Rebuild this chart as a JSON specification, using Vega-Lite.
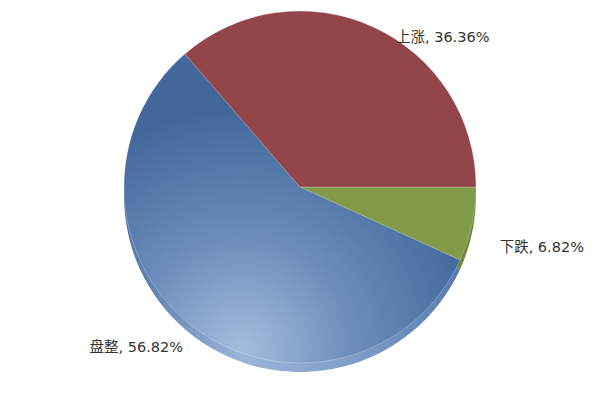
{
  "$schema": "https://vega.github.io/schema/vega-lite/v6.json",
  "width": 600,
  "height": 400,
  "autosize": {"type": "fit", "contains": "padding"},
  "padding": 0,
  "background": "white",
  "config": {"view": {"stroke": "#8a8a8a", "strokeWidth": 1}},
  "data": {
    "values": [
      {"k": "下跌", "v": 6.82, "o": 1, "label": "下跌, 6.82%"},
      {"k": "盘整", "v": 56.82, "o": 2, "label": "盘整, 56.82%"},
      {"k": "上涨", "v": 36.36, "o": 3, "label": "上涨, 36.36%"}
    ]
  },
  "encoding": {
    "theta": {"field": "v", "type": "quantitative", "stack": true, "scale": {"range": [1.5708, 7.854]}},
    "order": {"field": "o", "type": "quantitative"}
  },
  "layer": [
    {
      "mark": {"type": "arc", "radius": 176, "yOffset": -4},
      "encoding": {
        "color": {
          "condition": [
            {"test": "datum.k === '盘整'", "value": {"gradient": "linear", "x1": 0, "y1": 0, "x2": 1, "y2": 0, "stops": [{"offset": 0, "color": "#5076aa"}, {"offset": 0.35, "color": "#9cb5d8"}, {"offset": 0.7, "color": "#7d9cc8"}, {"offset": 1, "color": "#567bae"}]}},
            {"test": "datum.k === '上涨'", "value": "#7b3639"}
          ],
          "value": "#6c8a3a"
        }
      }
    },
    {
      "mark": {"type": "arc", "radius": 176, "yOffset": -13, "stroke": "#ffffff", "strokeWidth": 0.4, "strokeOpacity": 0.6},
      "encoding": {
        "color": {
          "condition": [
            {"test": "datum.k === '盘整'", "value": {"gradient": "radial", "x1": 0.35, "y1": 0.92, "r1": 0, "x2": 0.35, "y2": 0.92, "r2": 0.72, "stops": [{"offset": 0, "color": "#a5bddc"}, {"offset": 0.45, "color": "#6d8ebc"}, {"offset": 1, "color": "#41679b"}]}},
            {"test": "datum.k === '上涨'", "value": "#93464a"}
          ],
          "value": "#819b48"
        }
      }
    },
    {
      "mark": {
        "type": "text",
        "radius": 190,
        "yOffset": -13,
        "font": "DejaVu Sans, Noto Sans CJK SC",
        "fontSize": 14.5,
        "color": "#333333",
        "baseline": "middle",
        "align": {"expr": "datum.k === '盘整' ? 'right' : 'left'"},
        "dx": {"expr": "datum.k === '下跌' ? 14 : datum.k === '上涨' ? 17 : -3"},
        "dy": {"expr": "datum.k === '上涨' ? 24 : datum.k === '下跌' ? 21 : 9"}
      },
      "encoding": {
        "text": {"field": "label", "type": "nominal"}
      }
    }
  ]
}
